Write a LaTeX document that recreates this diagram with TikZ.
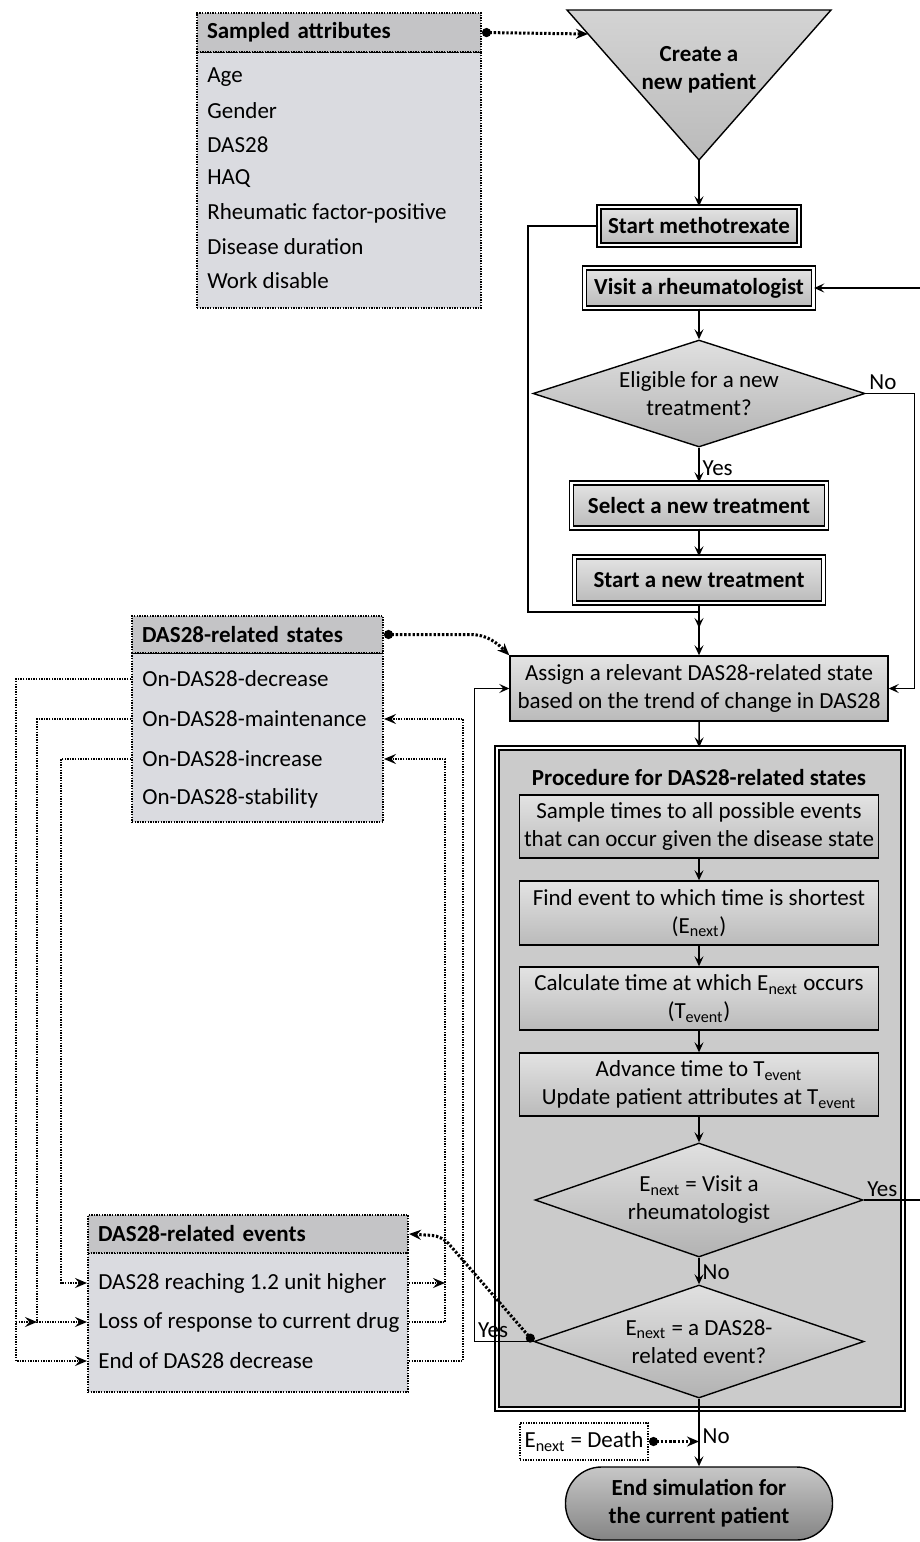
\documentclass[tikz,border=0pt]{standalone}
\usepackage{fontspec}
\setmainfont{Carlito}
\usetikzlibrary{shapes.geometric,arrows.meta,positioning}

\newcommand{\diagfont}{\fontsize{11.5}{14}\selectfont}

\definecolor{listgray}{RGB}{218,219,224}
\definecolor{headgray}{RGB}{196,196,198}
\definecolor{procgray}{RGB}{203,203,203}

\tikzset{
  flowbox/.style={draw, line width=0.7pt, top color=black!11, bottom color=black!27, align=center, inner sep=1pt},
  dblbox/.style={flowbox, double=white, double distance=1.3pt, font=\diagfont\bfseries},
  decision/.style={diamond, draw, line width=0.7pt, top color=black!12, bottom color=black!30, align=center, inner sep=0pt, aspect=3.1},
  dots/.style={dash pattern=on 0.7pt off 0.6pt},
  listhead/.style={draw, dots, line width=1pt, fill=headgray, font=\diagfont\bfseries, align=left, inner xsep=5pt, inner ysep=0pt},
  listbody/.style={draw, dots, line width=1pt, fill=listgray},
  item/.style={anchor=west, inner sep=0pt},
  flow/.style={draw, line width=0.7pt, -{Stealth[length=5pt,width=4.5pt,inset=2pt]}},
  dotlink/.style={dash pattern=on 1.2pt off 0.9pt, line width=1.5pt, {Circle[length=4.5pt,width=4.5pt]}-{Stealth[length=6pt,width=5pt,inset=2pt]}},
  statelink/.style={dots, line width=1.1pt, -{Stealth[length=6pt,width=5pt,inset=2.2pt]}},
  lbl/.style={inner sep=1.5pt}
}

\begin{document}
\begin{tikzpicture}[x=0.5pt, y=-0.5pt, font=\diagfont]
\useasboundingbox (0,0) rectangle (920,1542);

% sampled attributes
\node[listbody, minimum width=142pt, minimum height=128pt] (attrsbody) at (339,180) {};
\node[listhead, text width=132pt, minimum height=19.5pt] (attrshead) at (339,32.5) {Sampled attributes};
\node[item] (age) at (207,77) {Age};
\node[item] (gender) at (207,111) {Gender};
\node[item] (das) at (207,145) {DAS28};
\node[item] (haq) at (207,179) {HAQ};
\node[item] (rf) at (207,213) {Rheumatic factor-positive};
\node[item] (dur) at (207,247) {Disease duration};
\node[item] (work) at (207,281) {Work disable};

% create a new patient
\draw[line width=0.7pt, top color=black!17, bottom color=black!27] (567,10) -- (831,10) -- (699,160) -- cycle;
\node[font=\diagfont\bfseries, align=center] (create) at (699,70) {Create a\\new patient};
\coordinate (createtip) at (699,160);
\coordinate (createin) at (588,34);

% main column
\node[dblbox, minimum width=100pt, minimum height=19pt] (meth) at (699,226) {Start methotrexate};
\node[dblbox, minimum width=114.5pt, minimum height=20pt] (visit) at (699,288) {Visit a rheumatologist};
\node[decision, minimum width=166pt, minimum height=53.5pt] (elig) at (699,393.5) {Eligible for a new\\treatment?};
\node[dblbox, minimum width=127.5pt, minimum height=22.5pt] (select) at (699,505.5) {Select a new treatment};
\node[dblbox, minimum width=124.5pt, minimum height=23pt] (startnew) at (699,580) {Start a new treatment};
\node[flowbox, minimum width=189pt, minimum height=32.5pt] (assign) at (699,688.5) {Assign a relevant DAS28-related state\\based on the trend of change in DAS28};

% procedure for states
\node[draw, line width=0.7pt, double=white, double distance=1.3pt, fill=procgray, minimum width=203pt, minimum height=330.5pt] (proc) at (700,1078.5) {};
\node[font=\diagfont\bfseries] (proctitle) at (699,778) {Procedure for DAS28-related states};
\node[flowbox, minimum width=179.5pt, minimum height=31.5pt] (sample) at (699,826.5) {Sample times to all possible events\\that can occur given the disease state};
\node[flowbox, minimum width=179.5pt, minimum height=32pt] (find) at (699,913) {Find event to which time is shortest\\(E\textsubscript{next})};
\node[flowbox, minimum width=179.5pt, minimum height=31.5pt] (calctime) at (699,998.5) {Calculate time at which E\textsubscript{next} occurs\\(T\textsubscript{event})};
\node[flowbox, minimum width=179.5pt, minimum height=31.5pt] (advance) at (699,1084.5) {Advance time to T\textsubscript{event}\\Update patient attributes at T\textsubscript{event}};
\node[decision, minimum width=164pt, minimum height=57pt] (isvisit) at (699,1200) {E\textsubscript{next} = Visit a\\rheumatologist};
\node[decision, minimum width=165pt, minimum height=56.5pt] (isevent) at (699,1341.5) {E\textsubscript{next} = a DAS28-\\related event?};

% end
\node[draw, dots, line width=1pt, fill=white, minimum width=64pt, minimum height=18.5pt, inner sep=1pt] (death) at (584,1441.5) {E\textsubscript{next} = Death};
\node[draw, line width=0.7pt, rounded corners=18pt, top color=black!22, bottom color=black!48, minimum width=133.5pt, minimum height=36.5pt, align=center, font=\diagfont\bfseries] (endsim) at (699,1503.5) {End simulation for\\the current patient};

% states
\node[listbody, minimum width=125.5pt, minimum height=84.5pt] (statesbody) at (257.5,737.5) {};
\node[listhead, text width=115.5pt, minimum height=18.5pt] (stateshead) at (257.5,634.5) {DAS28-related states};
\node[item] (dec) at (142,679) {On-DAS28-decrease};
\node[item] (maint) at (142,719) {On-DAS28-maintenance};
\node[item] (incr) at (142,759) {On-DAS28-increase};
\node[item] (stab) at (142,798) {On-DAS28-stability};

% events
\node[listbody, minimum width=160pt, minimum height=69.5pt] (eventsbody) at (248,1322.5) {};
\node[listhead, text width=150pt, minimum height=19pt] (eventshead) at (248,1234) {DAS28-related events};
\node[item] (reach) at (98,1283) {DAS28 reaching 1.2 unit higher};
\node[item] (loss) at (98,1322) {Loss of response to current drug};
\node[item] (endec) at (98,1361) {End of DAS28 decrease};

% lanes
\coordinate (laneA) at (16,0);
\coordinate (laneB) at (37,0);
\coordinate (laneC) at (61,0);
\coordinate (laneD) at (445,0);
\coordinate (laneE) at (463,0);
\coordinate (laneM) at (528,0);
\coordinate (merge) at (699,612);
\coordinate (joinpt) at (699,628);

% flow
\draw[flow] (createtip) -- (meth);
\draw[flow] (meth.west) -| (laneM |- merge) -- (merge) -- (assign.north);
\draw[flow] (visit) -- (elig);
\draw[flow] (elig.south) -- node[lbl, right, pos=0.6] (yeselig) {Yes} (select.north);
\draw[flow] (elig.east) node[lbl, above right] (noelig) {No} -- ++(49,0) |- (assign.east);
\draw[flow] (select) -- (startnew);
\draw[flow] (startnew.south) -- (joinpt);
\draw[flow] (assign) -- (proc);
\draw[flow] (sample) -- (find);
\draw[flow] (find) -- (calctime);
\draw[flow] (calctime) -- (advance);
\draw[flow] (advance) -- (isvisit);
\draw[flow] (isvisit.south) -- node[lbl, right, pos=0.55] (novisit) {No} (isevent.north);
\draw[flow] (isvisit.east) node[lbl, above right] (yesvisit) {Yes} -- ++(80,0) |- (visit.east);
\draw[flow] (isevent.west) -- ++(-59,0) node[lbl, above right] (yesevent) {Yes} |- (assign.west);
\draw[flow] (isevent.south) -- node[lbl, right, pos=0.55] (noevent) {No} (endsim.north);

% dotted links
\draw[dotlink] (attrshead.east) -- (createin);
\draw[dotlink] (stateshead.east) -- (470,634.5) to[out=0, in=135] (assign.north west);
\draw[dotlink, rounded corners=5pt] (isevent.west) -- (442,1236) -- (eventshead.east);
\draw[dotlink] (death.east) -- (death.east -| isevent.south);

% states and events
\draw[statelink] (statesbody.west |- dec) -| (laneA |- endec) -- (eventsbody.west |- endec);
\draw[statelink] (statesbody.west |- maint) -| (laneB |- loss) -- (eventsbody.west |- loss);
\draw[statelink] (statesbody.west |- incr) -| (laneC |- reach) -- (eventsbody.west |- reach);
\draw[statelink] (laneA |- loss) -- (laneB |- loss);
\draw[statelink] (eventsbody.east |- loss) -| (laneD |- incr) -- (statesbody.east |- incr);
\draw[statelink] (eventsbody.east |- reach) -- (laneD |- reach);
\draw[statelink] (eventsbody.east |- endec) -| (laneE |- maint) -- (statesbody.east |- maint);
\end{tikzpicture}
\end{document}
